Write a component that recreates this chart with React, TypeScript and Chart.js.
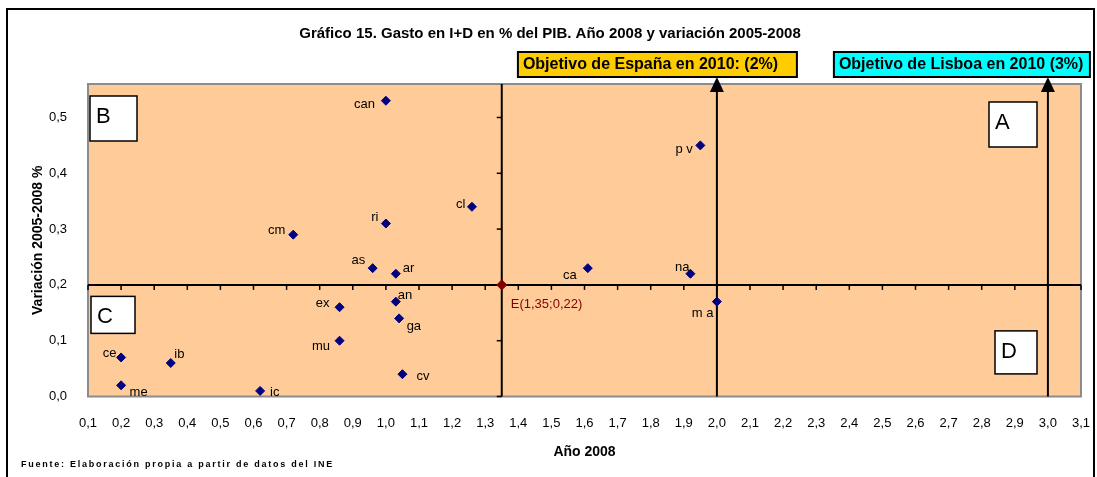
import { useEffect, useRef } from 'react';
import { Chart, registerables } from 'chart.js';

Chart.register(...registerables);

// ---------- DATA ----------
const regions = ['can', 'ri', 'cl', 'cm', 'as', 'ar', 'ca', 'na', 'pv', 'an', 'ex', 'ga', 'mu', 'ma', 'ce', 'ib', 'me', 'ic', 'cv'];
const pointLabels = ['can', 'ri', 'cl', 'cm', 'as', 'ar', 'ca', 'na', 'p v', 'an', 'ex', 'ga', 'mu', 'm a', 'ce', 'ib', 'me', 'ic', 'cv'];
const gasto2008 = [1.0, 1.0, 1.26, 0.72, 0.96, 1.03, 1.61, 1.92, 1.95, 1.03, 0.86, 1.04, 0.86, 2.0, 0.2, 0.35, 0.2, 0.62, 1.05];
const variacion = [0.53, 0.31, 0.34, 0.29, 0.23, 0.22, 0.23, 0.22, 0.45, 0.17, 0.16, 0.14, 0.1, 0.17, 0.07, 0.06, 0.02, 0.01, 0.04];

const crossX = 1.35;
const crossY = 0.2;
const crossLabel = 'E(1,35;0,22)';

const targetValues = [2.0, 3.0];
const targetLabels = ['Objetivo de España en 2010: (2%)', 'Objetivo de Lisboa en 2010 (3%)'];

const xTickValues = [0.1, 0.2, 0.3, 0.4, 0.5, 0.6, 0.7, 0.8, 0.9, 1.0, 1.1, 1.2, 1.3, 1.4, 1.5, 1.6, 1.7, 1.8, 1.9, 2.0, 2.1, 2.2, 2.3, 2.4, 2.5, 2.6, 2.7, 2.8, 2.9, 3.0, 3.1];
const xTickLabels = ['0,1', '0,2', '0,3', '0,4', '0,5', '0,6', '0,7', '0,8', '0,9', '1,0', '1,1', '1,2', '1,3', '1,4', '1,5', '1,6', '1,7', '1,8', '1,9', '2,0', '2,1', '2,2', '2,3', '2,4', '2,5', '2,6', '2,7', '2,8', '2,9', '3,0', '3,1'];
const yTickValues = [0.0, 0.1, 0.2, 0.3, 0.4, 0.5];
const yTickLabels = ['0,0', '0,1', '0,2', '0,3', '0,4', '0,5'];

const quadrantLetters = ['A', 'B', 'C', 'D'];

const titleText = 'Gráfico 15. Gasto en I+D en % del PIB. Año 2008 y variación 2005-2008';
const xTitle = 'Año 2008';
const yTitle = 'Variación 2005-2008 %';
const footerText = 'Fuente: Elaboración propia a partir de datos del INE';

// ---------- STYLES ----------
const FONT = "'Liberation Sans', Arial, sans-serif";
// label offsets (px) relative to each point; negative dx => label to the left
const labelOffsets: [number, number][] = [
  [-11, 4], [-7.5, -6.5], [-6.5, -2], [-8, -4], [-7.5, -7.5], [7, -5.5], [-11, 7.5], [-1, -6], [-7.5, 4.5],
  [2, -6], [-10, -3.5], [7.5, 8], [-9.5, 5.5], [-3.5, 11.5], [-4.5, -4.5], [3.5, -8.5], [8.5, 7], [10, 1.5], [14, 2],
];
const targetColors = ['#FFCC00', '#00FFFF'];

export default function App() {
  const ref = useRef<HTMLCanvasElement>(null);

  useEffect(() => {
    document.body.style.margin = '0';
    const canvas = ref.current;
    if (!canvas) return;

    const overlay = {
      id: 'overlay',
      beforeDatasetsDraw(chart: any) {
        const { ctx, chartArea: a } = chart;
        const x = chart.scales.x;
        const y = chart.scales.y;
        ctx.save();
        ctx.fillStyle = '#FFCC99';
        ctx.fillRect(a.left, a.top, a.right - a.left, a.bottom - a.top);
        ctx.strokeStyle = '#8C8C8C';
        ctx.lineWidth = 2;
        ctx.strokeRect(a.left, a.top, a.right - a.left, a.bottom - a.top);

        const cx = x.getPixelForValue(crossX);
        const cy = y.getPixelForValue(crossY);
        ctx.strokeStyle = '#000';
        ctx.lineWidth = 2;
        ctx.beginPath();
        ctx.moveTo(a.left, cy);
        ctx.lineTo(a.right, cy);
        ctx.stroke();
        ctx.beginPath();
        ctx.moveTo(cx, a.top);
        ctx.lineTo(cx, a.bottom);
        ctx.stroke();
        ctx.lineWidth = 1.5;
        xTickValues.forEach((v) => {
          const px = x.getPixelForValue(v);
          ctx.beginPath();
          ctx.moveTo(px, cy);
          ctx.lineTo(px, cy + 5);
          ctx.stroke();
        });
        yTickValues.forEach((v) => {
          const py = y.getPixelForValue(v);
          ctx.beginPath();
          ctx.moveTo(cx - 5, py);
          ctx.lineTo(cx, py);
          ctx.stroke();
        });

        // target arrows
        targetValues.forEach((v) => {
          const px = x.getPixelForValue(v);
          ctx.lineWidth = 2;
          ctx.beginPath();
          ctx.moveTo(px, a.bottom);
          ctx.lineTo(px, a.top + 6);
          ctx.stroke();
        });
        ctx.restore();
      },
      afterDatasetsDraw(chart: any) {
        const { ctx, chartArea: a } = chart;
        const x = chart.scales.x;
        const y = chart.scales.y;
        ctx.save();
        ctx.font = `13px ${FONT}`;
        ctx.fillStyle = '#000';
        ctx.textBaseline = 'middle';
        pointLabels.forEach((lab, i) => {
          const px = x.getPixelForValue(gasto2008[i]);
          const py = y.getPixelForValue(variacion[i]);
          const [dx, dy] = labelOffsets[i];
          ctx.textAlign = dx < 0 ? 'right' : 'left';
          ctx.fillText(lab, px + dx, py + dy);
        });
        const cx = x.getPixelForValue(crossX);
        const cy = y.getPixelForValue(crossY);
        ctx.fillStyle = '#800000';
        ctx.textAlign = 'left';
        ctx.fillText(crossLabel, cx + 9, cy + 20);

        // quadrant boxes
        const xAx = y.getPixelForValue(crossY);
        const boxes = [
          { l: a.right - 92, t: a.top + 18, w: 48, h: 45 },
          { l: a.left + 2, t: a.top + 12, w: 47, h: 45 },
          { l: a.left + 3, t: xAx + 11.5, w: 44, h: 37 },
          { l: a.right - 86, t: xAx + 46, w: 42, h: 43 },
        ];
        ctx.font = `22px ${FONT}`;
        ctx.textBaseline = 'alphabetic';
        boxes.forEach((b, i) => {
          ctx.fillStyle = '#FFFFFF';
          ctx.fillRect(b.l, b.t, b.w, b.h);
          ctx.strokeStyle = '#000';
          ctx.lineWidth = 1.5;
          ctx.strokeRect(b.l, b.t, b.w, b.h);
          ctx.fillStyle = '#000';
          ctx.textAlign = 'left';
          ctx.fillText(quadrantLetters[i], b.l + 6, b.t + 27);
        });
        ctx.restore();
      },
      afterDraw(chart: any) {
        const { ctx, chartArea: a } = chart;
        const x = chart.scales.x;
        ctx.save();
        // arrow heads
        targetValues.forEach((v) => {
          const px = x.getPixelForValue(v);
          ctx.fillStyle = '#000';
          ctx.beginPath();
          ctx.moveTo(px, a.top - 7);
          ctx.lineTo(px + 7, a.top + 8);
          ctx.lineTo(px - 7, a.top + 8);
          ctx.closePath();
          ctx.fill();
        });
        // objective boxes
        const boxDefs = [
          { off: -199, w: 279 },
          { off: -214, w: 256 },
        ];
        ctx.font = `bold 16px ${FONT}`;
        ctx.textBaseline = 'middle';
        targetValues.forEach((v, i) => {
          const px = x.getPixelForValue(v);
          const l = px + boxDefs[i].off;
          const t = a.top - 32;
          ctx.fillStyle = targetColors[i];
          ctx.fillRect(l, t, boxDefs[i].w, 25);
          ctx.strokeStyle = '#000';
          ctx.lineWidth = 2;
          ctx.strokeRect(l, t, boxDefs[i].w, 25);
          ctx.fillStyle = '#000';
          ctx.textAlign = 'left';
          ctx.fillText(targetLabels[i], l + 5, t + 13);
        });
        // title
        ctx.font = `bold 15px ${FONT}`;
        ctx.textAlign = 'center';
        ctx.fillText(titleText, 550, 34);
        // footer
        ctx.font = `bold 9px ${FONT}`;
        ctx.textAlign = 'left';
        (ctx as any).letterSpacing = '1.75px';
        ctx.fillText(footerText, 21, 465);
        (ctx as any).letterSpacing = '0px';
        // outer border
        ctx.strokeStyle = '#000';
        ctx.lineWidth = 2;
        ctx.strokeRect(7, 9, 1087, 480);
        ctx.restore();
      },
    };

    const chart = new Chart(canvas, {
      type: 'scatter',
      data: {
        datasets: [
          {
            label: 'Comunidades',
            data: regions.map((r, i) => ({ x: gasto2008[i], y: variacion[i] })),
            pointStyle: 'rectRot',
            pointRadius: 4.5,
            pointBackgroundColor: '#000080',
            pointBorderColor: '#000080',
            pointBorderWidth: 1,
          },
          {
            label: 'E',
            data: [{ x: crossX, y: crossY }],
            pointStyle: 'rectRot',
            pointRadius: 5,
            pointBackgroundColor: '#800000',
            pointBorderColor: '#800000',
            pointBorderWidth: 1,
          },
        ],
      },
      options: {
        animation: false,
        responsive: false,
        devicePixelRatio: 1,
        events: [],
        layout: { padding: { left: 0, right: 16, top: 84, bottom: 0 } },
        plugins: { legend: { display: false }, tooltip: { enabled: false }, title: { display: false } },
        scales: {
          x: {
            type: 'linear',
            min: 0.1,
            max: 3.1,
            grid: { display: false },
            border: { display: false },
            afterBuildTicks: (s: any) => {
              s.ticks = xTickValues.map((v) => ({ value: v }));
            },
            afterFit: (s: any) => {
              s.height = 80.5;
              s.paddingLeft = 0;
              s.paddingRight = 0;
            },
            ticks: {
              autoSkip: false,
              maxRotation: 0,
              padding: 11,
              color: '#000',
              font: { family: FONT, size: 13 },
              callback: (_v: any, i: number) => xTickLabels[i],
            },
            title: {
              display: true,
              text: xTitle,
              color: '#000',
              font: { family: FONT, size: 14, weight: 'bold' },
              padding: { top: 0, bottom: 16.6 },
            },
          },
          y: {
            type: 'linear',
            min: 0,
            max: 0.56,
            grid: { display: false },
            border: { display: false },
            afterBuildTicks: (s: any) => {
              s.ticks = yTickValues.map((v) => ({ value: v }));
            },
            afterFit: (s: any) => {
              s.width = 88;
              s.paddingTop = 0;
              s.paddingBottom = 0;
            },
            ticks: {
              padding: 13,
              color: '#000',
              font: { family: FONT, size: 13 },
              callback: (_v: any, i: number) => yTickLabels[i],
            },
            title: {
              display: true,
              text: yTitle,
              color: '#000',
              font: { family: FONT, size: 14, weight: 'bold' },
              padding: { top: 29.6, bottom: 0 },
            },
          },
        },
      },
      plugins: [overlay],
    });

    return () => chart.destroy();
  }, []);

  return (
    <div style={{ width: 1097, height: 477 }}>
      <canvas ref={ref} width={1097} height={477} style={{ display: 'block' }} />
    </div>
  );
}
